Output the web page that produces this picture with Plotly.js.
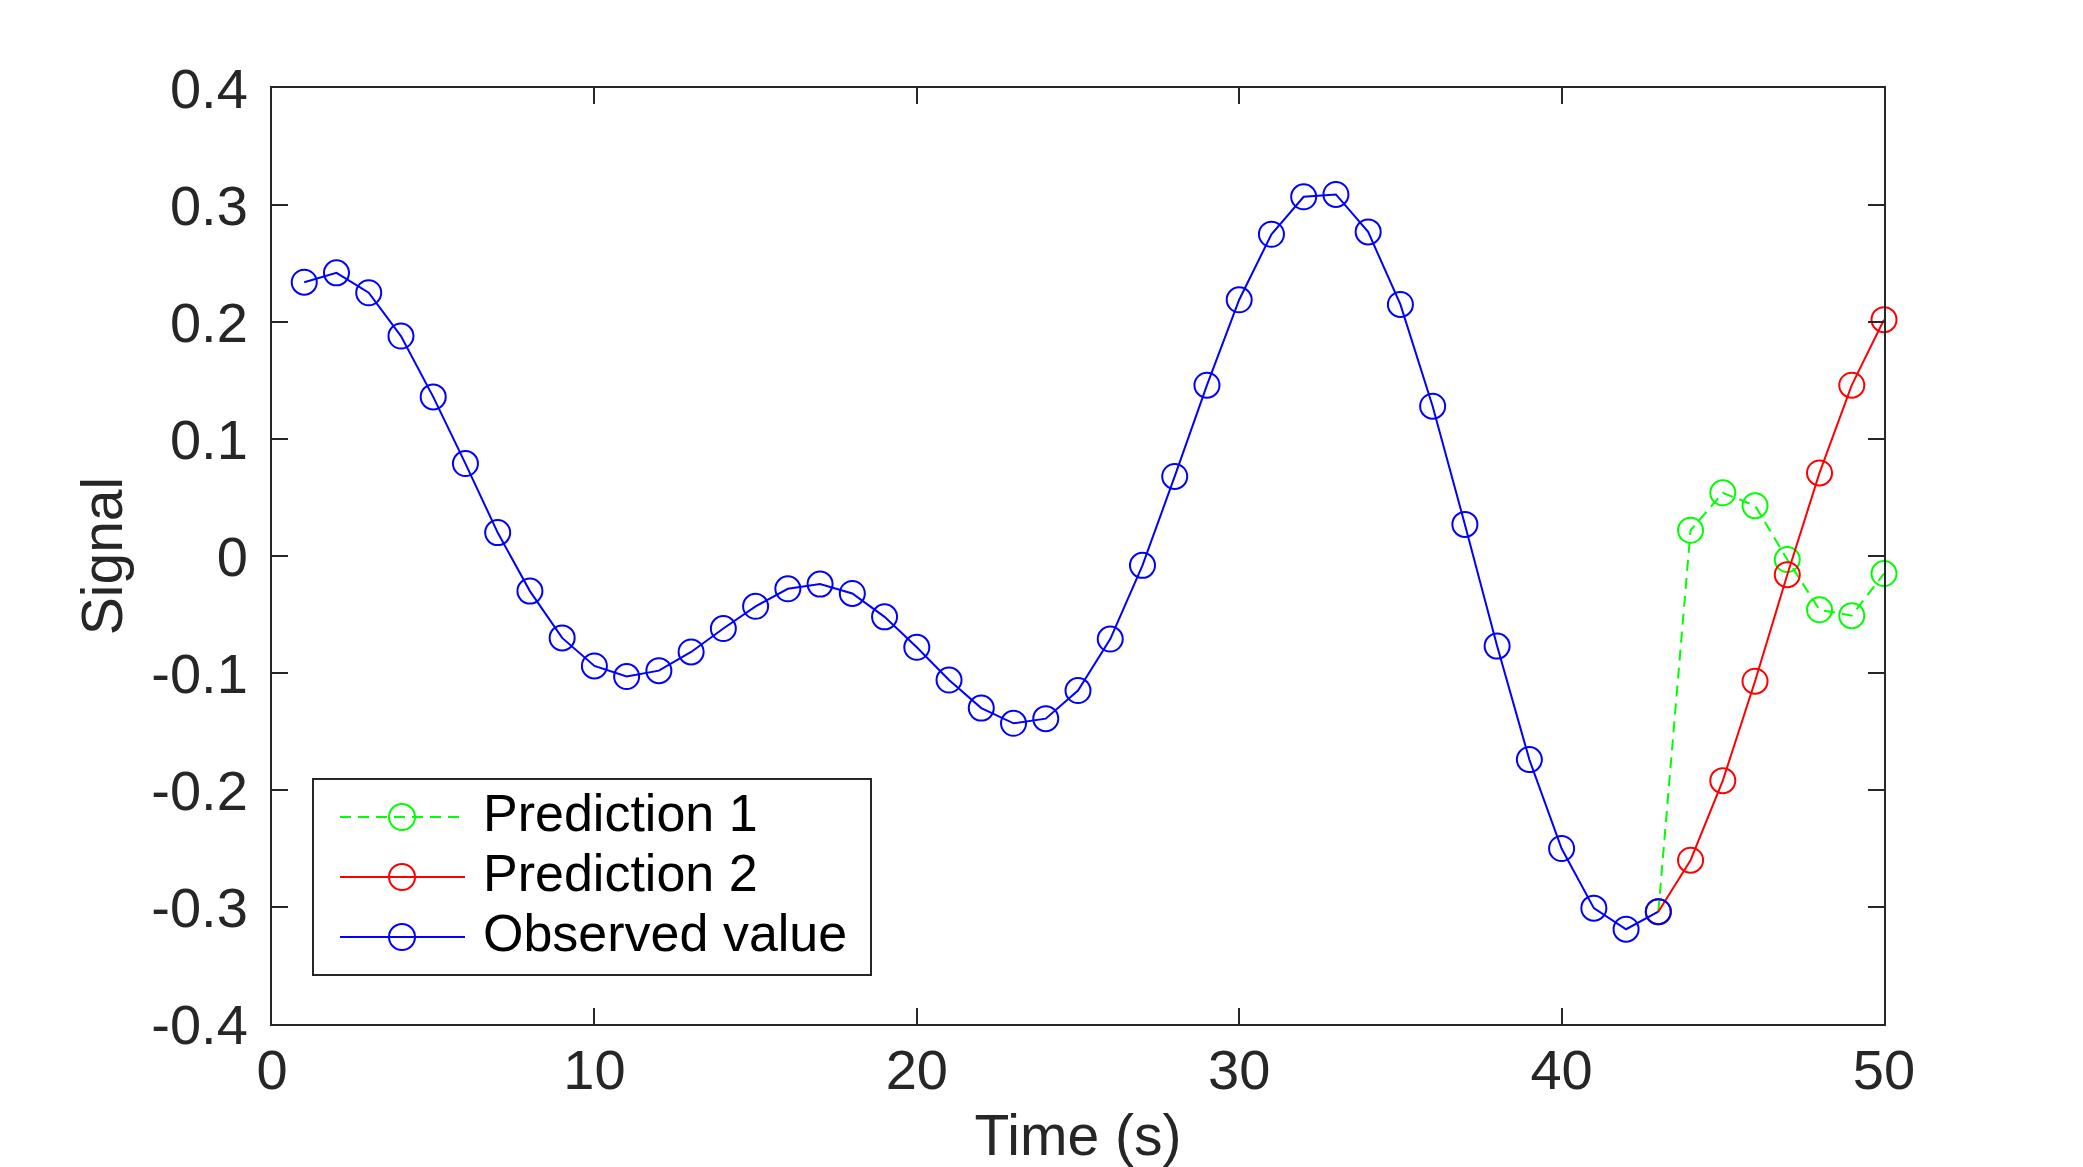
<!DOCTYPE html>
<html>
<head>
<meta charset="utf-8">
<script src="https://cdn.plot.ly/plotly-3.0.1.min.js"></script>
<style>
  html, body { margin: 0; padding: 0; background: #fff; }
  #chart { width: 2083px; height: 1167px; }
</style>
</head>
<body>
<div id="chart"></div>
<script>
// observed signal, t = 1..43
const obsTime = [1, 2, 3, 4, 5, 6, 7, 8, 9, 10, 11, 12, 13, 14, 15, 16, 17, 18, 19, 20, 21, 22,
    23, 24, 25, 26, 27, 28, 29, 30, 31, 32, 33, 34, 35, 36, 37, 38, 39, 40, 41, 42, 43];
const obsValue = [0.234, 0.242, 0.225, 0.188, 0.136, 0.079, 0.020, -0.030, -0.070, -0.094,
    -0.103, -0.098, -0.082, -0.062, -0.043, -0.028, -0.024, -0.032, -0.052, -0.078,
    -0.106, -0.130, -0.143, -0.139, -0.115, -0.071, -0.008, 0.068, 0.146, 0.219,
    0.275, 0.307, 0.309, 0.277, 0.215, 0.128, 0.027, -0.077, -0.174, -0.250,
    -0.301, -0.319, -0.304];

// both predictions start from the last observed point
const predTime = [43, 44, 45, 46, 47, 48, 49, 50];
const pred1Value = [-0.304, 0.022, 0.054, 0.043, -0.003, -0.046, -0.051, -0.015];
const pred2Value = [-0.304, -0.260, -0.192, -0.107, -0.016, 0.071, 0.146, 0.202];

const xTickVals = [0, 10, 20, 30, 40, 50];
const yTickVals = [-0.4, -0.3, -0.2, -0.1, 0, 0.1, 0.2, 0.3, 0.4];
const yTickText = ['-0.4', '-0.3', '-0.2', '-0.1', '0', '0.1', '0.2', '0.3', '0.4'];

const seriesNames = ['Prediction 1', 'Prediction 2', 'Observed value'];
const seriesColors = ['#00ff00', '#ff0000', '#0000ff'];
const seriesDash = ['11px,7px', 'solid', 'solid'];

const axisColor = '#262626';
const fontFamily = '"Liberation Sans", Arial, Helvetica, sans-serif';

// plot area in page pixels (matches the margins below)
const W = 2083, H = 1167;
const M = { l: 272, r: 199, t: 88, b: 143 };
const plotW = W - M.l - M.r, plotH = H - M.t - M.b;
const px = x => (x - M.l) / plotW;
const py = y => (H - M.b - y) / plotH;

function series(i, x, y) {
    const color = seriesColors[i];
    return {
        name: seriesNames[i], x: x, y: y, type: 'scatter', mode: 'lines+markers',
        showlegend: false, cliponaxis: false,
        line: { color: color, width: 2, dash: seriesDash[i] },
        marker: { symbol: 'circle-open', size: 25, color: color, line: { color: color, width: 2 } }
    };
}

const traces = [
    series(0, predTime, pred1Value),
    series(1, predTime, pred2Value),
    series(2, obsTime, obsValue)
];

// MATLAB-style legend box: long sample line with the marker in the middle
const legendBox = { left: 313, right: 871, top: 779, bottom: 975 };
const legendRows = [817, 877, 937];
const shapes = [{
    type: 'rect', xref: 'paper', yref: 'paper', layer: 'above',
    x0: px(legendBox.left), x1: px(legendBox.right), y0: py(legendBox.bottom), y1: py(legendBox.top),
    fillcolor: '#ffffff', line: { color: axisColor, width: 2 }
}];
const annotations = [];
legendRows.forEach((rowY, i) => {
    shapes.push({
        type: 'line', xref: 'paper', yref: 'paper', layer: 'above',
        x0: px(340), x1: px(465), y0: py(rowY), y1: py(rowY),
        line: { color: seriesColors[i], width: 2, dash: seriesDash[i] }
    });
    shapes.push({
        type: 'circle', xref: 'paper', yref: 'paper', layer: 'above',
        xsizemode: 'pixel', ysizemode: 'pixel', xanchor: px(402), yanchor: py(rowY),
        x0: -13, x1: 13, y0: -13, y1: 13,
        line: { color: seriesColors[i], width: 2 }
    });
    annotations.push({
        xref: 'paper', yref: 'paper', x: px(481), y: py(rowY - 4),
        xanchor: 'left', yanchor: 'middle', showarrow: false,
        text: seriesNames[i], font: { family: fontFamily, size: 52, color: '#000000' }
    });
});

const axisBase = {
    showgrid: false, zeroline: false, showline: true, linecolor: axisColor, linewidth: 2,
    mirror: 'ticks', ticks: 'inside', ticklen: 16, tickwidth: 2, tickcolor: axisColor,
    tickfont: { family: fontFamily, size: 56, color: axisColor }
};

const layout = {
    width: W, height: H,
    paper_bgcolor: '#ffffff', plot_bgcolor: '#ffffff',
    margin: { ...M, autoexpand: false },
    font: { family: fontFamily, color: axisColor },
    showlegend: false,
    shapes: shapes,
    annotations: annotations,
    xaxis: {
        ...axisBase, range: [0, 50], tickvals: xTickVals, ticklabelstandoff: -4,
        title: { text: 'Time (s)', standoff: 30, font: { family: fontFamily, size: 57, color: axisColor } }
    },
    yaxis: {
        ...axisBase, range: [-0.4, 0.4], tickvals: yTickVals, ticktext: yTickText, ticklabelstandoff: 11,
        title: { text: 'Signal', standoff: 10, font: { family: fontFamily, size: 57, color: axisColor } }
    }
};

Plotly.newPlot('chart', traces, layout, { displayModeBar: false, staticPlot: true });
</script>
</body>
</html>
